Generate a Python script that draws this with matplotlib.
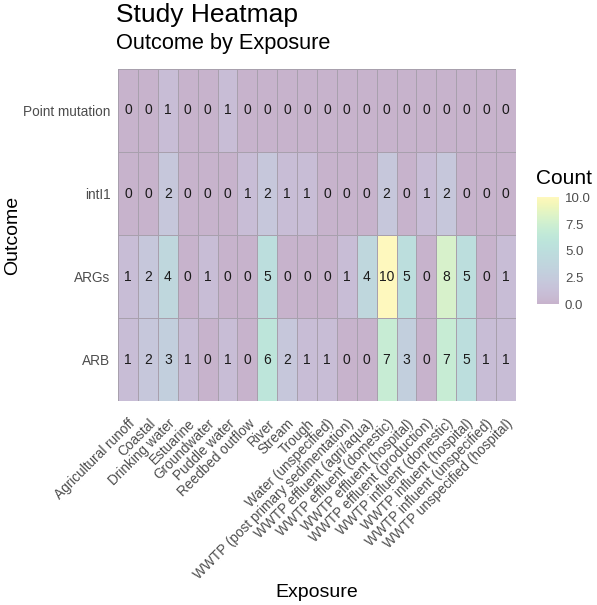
import numpy as np
import matplotlib
matplotlib.use("Agg")
import matplotlib.pyplot as plt
from matplotlib.colors import ListedColormap

plt.rcParams['font.family'] = ['Liberation Sans', 'DejaVu Sans']

exposures = ["Agricultural runoff", "Coastal", "Drinking water", "Estuarine", "Groundwater",
             "Puddle water", "Reedbed outflow", "River", "Stream", "Trough",
             "Water (unspecified)", "WWTP (post primary sedimentation)",
             "WWTP effluent (agri/aqua)", "WWTP effluent (domestic)", "WWTP effluent (hospital)",
             "WWTP effluent (production)", "WWTP influent (domestic)", "WWTP influent (hospital)",
             "WWTP influent (unspecified)", "WWTP unspecified (hospital)"]
outcomes = ["Point mutation", "intI1", "ARGs", "ARB"]  # top to bottom

point_mutation = [0, 0, 1, 0, 0, 1, 0, 0, 0, 0, 0, 0, 0, 0, 0, 0, 0, 0, 0, 0]
inti1 =          [0, 0, 2, 0, 0, 0, 1, 2, 1, 1, 0, 0, 0, 2, 0, 1, 2, 0, 0, 0]
args_ =          [1, 2, 4, 0, 1, 0, 0, 5, 0, 0, 0, 1, 4, 10, 5, 0, 8, 5, 0, 1]
arb =            [1, 2, 3, 1, 0, 1, 0, 6, 2, 1, 1, 0, 0, 7, 3, 0, 7, 5, 1, 1]

data = np.array([point_mutation, inti1, args_, arb], dtype=float)

alpha = 0.3
base = plt.get_cmap('viridis')(np.linspace(0, 1, 256))[:, :3]
blend = base * alpha + (1 - alpha)
cmap = ListedColormap(blend)

fig = plt.figure(figsize=(5.97, 6.05), dpi=100)
ax = fig.add_axes([0.198, 0.337, 0.666, 0.549])

nr, nc = data.shape
mesh = ax.pcolormesh(np.arange(nc + 1), np.arange(nr + 1), data, cmap=cmap,
                     vmin=0, vmax=10, edgecolors='#a8a0ad', linewidth=0.4)
ax.set_xlim(0, nc)
ax.set_ylim(nr, 0)

for i in range(nr):
    for j in range(nc):
        ax.text(j + 0.5, i + 0.5, f"{int(data[i, j])}", ha='center', va='center',
                fontsize=10, color='#1a1a1a')

ax.set_xticks(np.arange(nc) + 0.5)
ax.set_xticklabels([])
xtrans = ax.get_xaxis_transform()
for j, lab in enumerate(exposures):
    ax.annotate(lab, xy=(j + 0.5, 0), xycoords=xtrans, xytext=(0, -11),
                textcoords='offset points', ha='right', va='top', rotation=45,
                rotation_mode='anchor', fontsize=9.8, color='#4d4d4d',
                annotation_clip=False)
ax.set_yticks(np.arange(nr) + 0.5)
ax.set_yticklabels(outcomes, fontsize=9.8, color='#4d4d4d')
ax.tick_params(axis='y', length=0, pad=5.5)
ax.tick_params(axis='x', length=0, pad=4)
for s in ax.spines.values():
    s.set_visible(False)

fig.text(0.021, 0.611, "Outcome", fontsize=14, rotation=90, ha='center', va='center')
fig.text(0.531, 0.021, "Exposure", fontsize=14, ha='center', va='center')

fig.text(0.194, 0.975, "Study Heatmap", fontsize=19, ha='left', va='center')
fig.text(0.194, 0.928, "Outcome by Exposure", fontsize=15.7, ha='left', va='center')

cax = fig.add_axes([0.900, 0.497, 0.037, 0.177])
cb = fig.colorbar(mesh, cax=cax, ticks=[0, 2.5, 5, 7.5, 10])
cb.ax.set_yticklabels(["0.0", "2.5", "5.0", "7.5", "10.0"], fontsize=9.5, color='#4d4d4d')
cb.ax.tick_params(length=0, pad=4)
cb.outline.set_visible(False)
fig.text(0.898, 0.705, "Count", fontsize=15, ha='left', va='center')

fig.savefig("out.png", dpi=100)
